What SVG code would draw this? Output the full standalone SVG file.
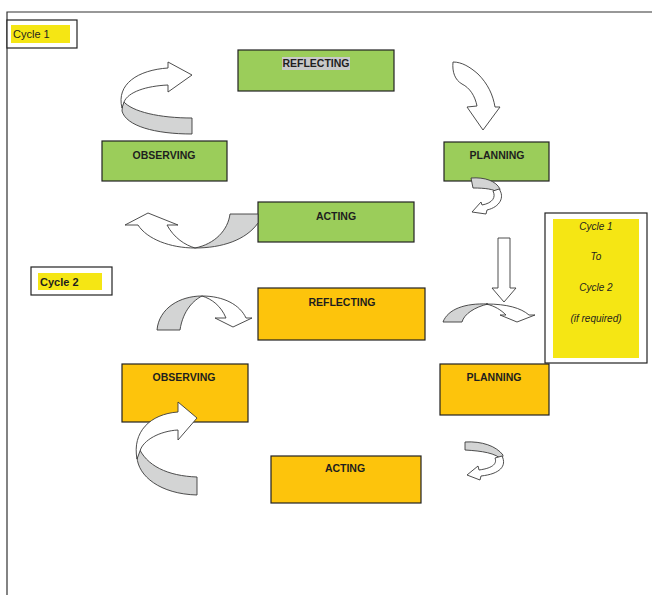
<svg xmlns="http://www.w3.org/2000/svg" width="652" height="595" viewBox="0 0 652 595">
  <style>
    .box { stroke: #222; stroke-width: 1.2; }
    .green { fill: #9bcd5a; }
    .orange { fill: #fdc40c; }
    .lbl { font-family: "Liberation Sans", Arial, sans-serif; font-weight: bold; font-size: 10.5px; fill: #1e1e1e; text-anchor: middle; }
    .tag { font-family: "Liberation Sans", Arial, sans-serif; font-size: 11px; fill: #1e1e1e; }
    .it { font-family: "Liberation Sans", Arial, sans-serif; font-style: italic; font-size: 10px; fill: #1e1e1e; text-anchor: middle; }
    .aw { fill: #ffffff; stroke: #3a3a3a; stroke-width: 0.9; stroke-linejoin: round; }
    .ag { fill: #d3d4d4; stroke: #3a3a3a; stroke-width: 0.9; stroke-linejoin: round; }
  </style>

  <!-- page frame -->
  <path d="M7,595 V12 H652" fill="none" stroke="#333" stroke-width="1.2"/>

  <!-- cycle tags -->
  <g id="tag-cycle1">
    <rect x="7" y="20" width="70" height="28" fill="#fff" stroke="#222" stroke-width="1.2"/>
    <rect x="11" y="25" width="59" height="18" fill="#f5e614"/>
    <text class="tag" x="13" y="38">Cycle 1</text>
  </g>
  <g id="tag-cycle2">
    <rect x="31" y="267" width="81" height="28" fill="#fff" stroke="#222" stroke-width="1.2"/>
    <rect x="38" y="273" width="64" height="17" fill="#f5e614"/>
    <text class="tag" x="40" y="286" font-weight="bold">Cycle 2</text>
  </g>
  <g id="note-transition">
    <rect x="545" y="213" width="102" height="150" fill="#fff" stroke="#222" stroke-width="1.2"/>
    <rect x="553" y="219" width="86" height="139" fill="#f5e614"/>
    <text class="it" x="596" y="230">Cycle 1</text>
    <text class="it" x="596" y="260">To</text>
    <text class="it" x="596" y="291">Cycle 2</text>
    <text class="it" x="596" y="322">(if required)</text>
  </g>

  <!-- cycle 1 nodes -->
  <g id="c1-reflecting">
    <rect class="box green" x="238" y="50" width="156" height="41"/>
    <rect x="282" y="57" width="68" height="13" fill="#c9c9c9"/>
    <text class="lbl" x="316" y="67">REFLECTING</text>
  </g>
  <g id="c1-observing">
    <rect class="box green" x="102" y="141" width="125" height="40"/>
    <text class="lbl" x="164" y="159">OBSERVING</text>
  </g>
  <g id="c1-planning">
    <rect class="box green" x="444" y="142" width="105" height="39"/>
    <text class="lbl" x="497" y="159">PLANNING</text>
  </g>
  <g id="c1-acting">
    <rect class="box green" x="258" y="202" width="156" height="40"/>
    <text class="lbl" x="336" y="220">ACTING</text>
  </g>

  <!-- cycle 2 nodes -->
  <g id="c2-reflecting">
    <rect class="box orange" x="258" y="288" width="167" height="52"/>
    <text class="lbl" x="342" y="306">REFLECTING</text>
  </g>
  <g id="c2-observing">
    <rect class="box orange" x="122" y="364" width="126" height="58"/>
    <text class="lbl" x="184" y="381">OBSERVING</text>
  </g>
  <g id="c2-planning">
    <rect class="box orange" x="440" y="364" width="109" height="51"/>
    <text class="lbl" x="494" y="381">PLANNING</text>
  </g>
  <g id="c2-acting">
    <rect class="box orange" x="271" y="456" width="150" height="47"/>
    <text class="lbl" x="345" y="472">ACTING</text>
  </g>

  <!-- connectors: curved block arrows -->
  <g id="connectors">
    <!-- observing -> reflecting (cycle 1) -->
    <path class="ag" d="M123,101 C132,112 160,118 192,118 L192,134 C155,134 126,126 122,111 Z"/>
    <path class="aw" d="M122,108 C116,84 138,70 168,68 L168,62 L192,75 L168,92 L168,85 C146,86 128,92 124,102 Z"/>

    <!-- reflecting -> planning (cycle 1) -->
    <path class="aw" d="M453,62 C462,62 470,67 478,74 C488,84 493,95 495,107 L500,107 L483,130 L467,107 L477,106 C475,96 470,88 462,84 C455,80 452,72 453,62 Z"/>

    <!-- planning -> acting (cycle 1) -->
    <path class="ag" d="M471,178 C485,177 496,181 500,189 L499,193 C494,189 485,188 473,188 Z"/>
    <path class="aw" d="M499,189 C505,197 500,207 487,210 L486,214 L472,212 L481,202 L482,205 C493,203 496,197 493,191 Z"/>

    <!-- acting -> observing (cycle 1) -->
    <path class="ag" d="M230,214 L258,214 L258,223 C246,240 222,248 195,248 C215,244 228,230 230,214 Z"/>
    <path class="aw" d="M138,225 L125,225 L148,213 L178,225 L167,225 C174,238 185,245 195,248 C170,248 147,239 138,225 Z"/>

    <!-- down arrow between cycles -->
    <path class="aw" d="M498,238 L510,238 L510,288 L516,288 L504,302 L492,288 L498,288 Z"/>

    <!-- curve into cycle 2 planning side -->
    <path class="ag" d="M443,322 C448,309 465,303 488,304 C475,307 464,314 462,322 Z"/>
    <path class="aw" d="M486,304 C507,304 521,308 529,315 L535,315 L517,322 L500,315 L506,315 C501,310 495,306 486,304 Z"/>

    <!-- cycle 2 tag -> reflecting -->
    <path class="ag" d="M157,330 C159,308 180,296 202,296 C194,300 183,310 180,330 Z"/>
    <path class="aw" d="M202,296 C224,296 240,305 246,318 L252,318 L233,327 L215,318 L226,318 C221,306 212,299 202,296 Z"/>

    <!-- planning -> acting (cycle 2) -->
    <path class="ag" d="M465,442 C482,441 496,446 503,455 L502,460 C496,453 482,451 465,450 Z"/>
    <path class="aw" d="M502,456 C507,466 500,474 481,476 L480,480 L467,475 L478,466 L479,470 C494,468 497,463 495,458 Z"/>

    <!-- acting -> observing (cycle 2) -->
    <path class="ag" d="M138,446 C146,466 168,476 197,477 L197,495 C160,494 138,476 137,457 Z"/>
    <path class="aw" d="M137,459 C132,432 150,414 178,412 L178,402 L197,418 L178,440 L178,430 C160,431 143,440 140,451 Z"/>
  </g>
</svg>
